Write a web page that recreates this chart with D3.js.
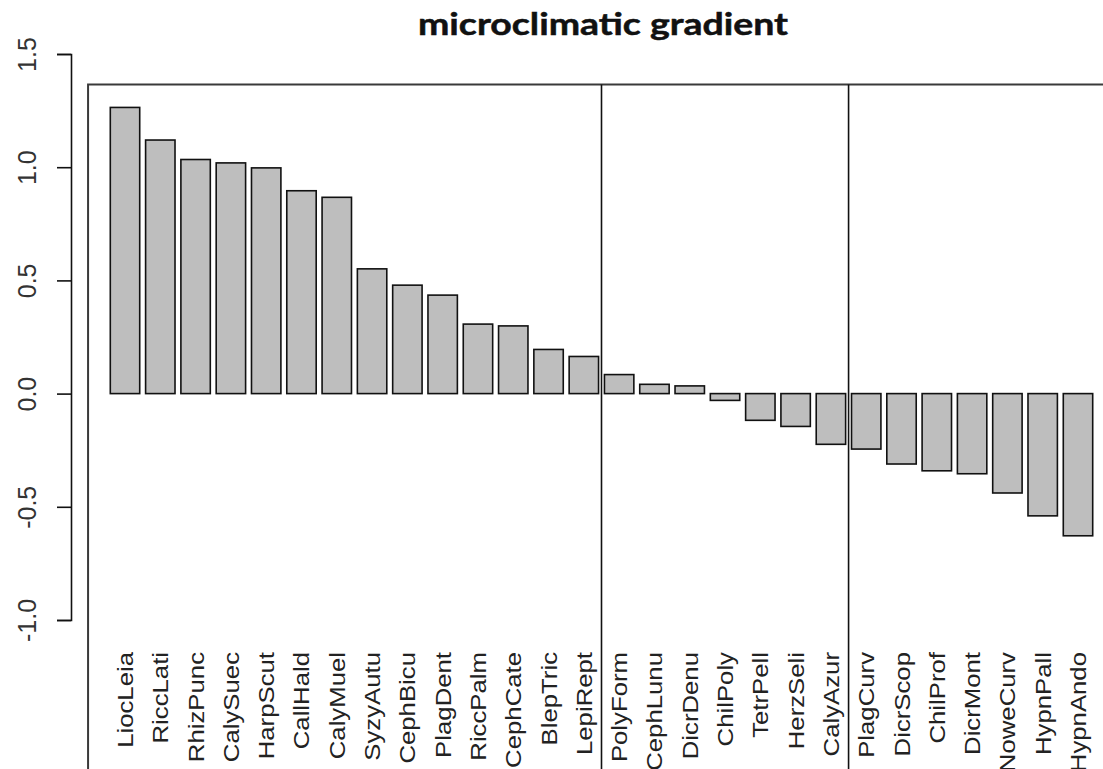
<!DOCTYPE html>
<html>
<head>
<meta charset="utf-8">
<script src="https://cdn.jsdelivr.net/npm/d3@7"></script>
<style>
  body { margin: 0; background: #fff; }
  svg { display: block; }
</style>
</head>
<body>
<svg width="1103" height="769"></svg>
<script>
// species codes, in plot order
const species = [
  'LiocLeia', 'RiccLati', 'RhizPunc', 'CalySuec', 'HarpScut', 'CallHald', 'CalyMuel',
  'SyzyAutu', 'CephBicu', 'PlagDent', 'RiccPalm', 'CephCate', 'BlepTric', 'LepiRept',
  'PolyForm', 'CephLunu', 'DicrDenu', 'ChilPoly', 'TetrPell', 'HerzSeli', 'CalyAzur',
  'PlagCurv', 'DicrScop', 'ChilProf', 'DicrMont', 'NoweCurv', 'HypnPall', 'HypnAndo'
];

// scores along the gradient
const scores = [
  1.264, 1.120, 1.034, 1.019, 0.997, 0.896, 0.867,
  0.551, 0.479, 0.435, 0.307, 0.299, 0.195, 0.164,
  0.084, 0.041, 0.034, -0.030, -0.118, -0.145, -0.224,
  -0.245, -0.311, -0.341, -0.354, -0.439, -0.540, -0.628
];

// index of the last species in each group (a line is drawn after it)
const groupEnds = [13, 20];

const yTicks = [-1.0, -0.5, 0.0, 0.5, 1.0, 1.5];

const title = 'microclimatic gradient';

const data = species.map((s, i) => ({ name: s, value: scores[i] }));

const svg = d3.select('svg');
const width = Number(svg.attr('width'));
const height = Number(svg.attr('height'));

/* ==================================
Scales
================================== */
const x = d3.scaleBand()
  .domain(species)
  .range([110.3, 1092.7])
  .paddingInner(0.2 / 1.2)
  .paddingOuter(0);

const y = d3.scaleLinear()
  .domain([-1, 1.5])
  .range([620, 54]);

/* ==================================
Frame and group separators
================================== */
const boxLeft = x(species[0]) - 0.63 * x.step();
const boxTop = 84.5;

svg.append('path')
  .attr('d', `M${boxLeft},${height} V${boxTop} H${width}`)
  .attr('fill', 'none')
  .attr('stroke', '#3a3a3a')
  .attr('stroke-width', 2);

groupEnds.forEach((idx) => {
  const xl = (x(species[idx]) + x.bandwidth() + x(species[idx + 1])) / 2;
  svg.append('line')
    .attr('x1', xl).attr('x2', xl)
    .attr('y1', boxTop).attr('y2', height)
    .attr('stroke', '#111')
    .attr('stroke-width', 1.6);
});

/* ==================================
Bars
================================== */
svg.append('g')
  .selectAll('rect')
  .data(data)
  .join('rect')
  .attr('x', (d) => x(d.name))
  .attr('width', x.bandwidth())
  .attr('y', (d) => y(Math.max(0, d.value)))
  .attr('height', (d) => Math.abs(y(d.value) - y(0)))
  .attr('fill', '#bebebe')
  .attr('stroke', '#111')
  .attr('stroke-width', 1.6);

/* ==================================
Y axis (R style: vertical labels, plain hyphen minus)
================================== */
const yAxis = svg.append('g')
  .attr('transform', 'translate(71,0)')
  .call(d3.axisLeft(y).tickValues(yTicks).tickSizeOuter(0).tickSize(14).tickFormat((d) => d.toFixed(1)));

yAxis.select('.domain').attr('stroke', '#111').attr('stroke-width', 1.6);
yAxis.selectAll('.tick line').attr('stroke', '#111').attr('stroke-width', 1.6);
yAxis.selectAll('.tick text')
  .attr('x', null).attr('dy', null)
  .attr('transform', 'translate(-35,0) rotate(-90)')
  .attr('text-anchor', 'middle')
  .attr('font-family', '"Liberation Sans", Arial, sans-serif')
  .attr('font-size', 25)
  .attr('fill', '#333');

/* ==================================
Species labels, rotated, right aligned
================================== */
svg.append('g')
  .selectAll('text')
  .data(data)
  .join('text')
  .attr('transform', (d) => `translate(${x(d.name) + x.bandwidth() / 2 + 8},652) rotate(-90) scale(1.17,1)`)
  .attr('text-anchor', 'end')
  .attr('font-family', '"Liberation Sans", Arial, sans-serif')
  .attr('font-size', 22)
  .attr('fill', '#222')
  .text((d) => d.name);

/* ==================================
Title
================================== */
svg.append('text')
  .attr('x', 603)
  .attr('y', 35)
  .attr('text-anchor', 'middle')
  .attr('font-family', 'Lato, "Open Sans", sans-serif')
  .attr('font-weight', 'bold')
  .attr('font-size', 31)
  .attr('textLength', 370)
  .attr('lengthAdjust', 'spacingAndGlyphs')
  .attr('fill', '#111')
  .attr('stroke', '#111')
  .attr('stroke-width', 0.5)
  .text(title);
</script>
</body>
</html>
